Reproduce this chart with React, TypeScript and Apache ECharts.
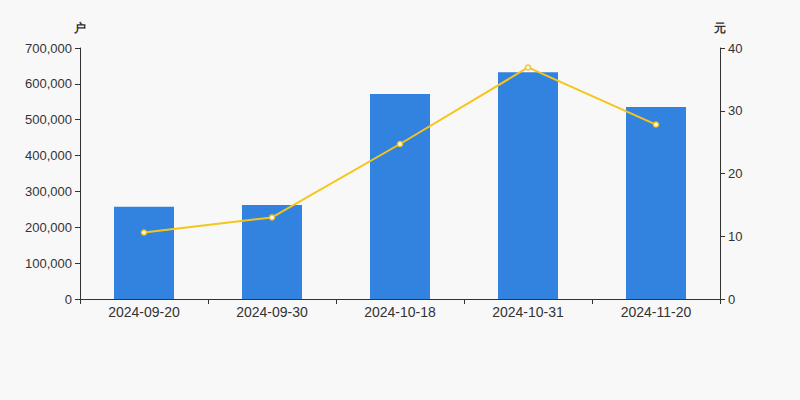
import React, { useEffect, useRef } from "react";
import * as echarts from "echarts";

const categories = ["2024-09-20", "2024-09-30", "2024-10-18", "2024-10-31", "2024-11-20"];
const holders = [257400, 262500, 572000, 632500, 535500];
const prices = [10.6, 13.0, 24.7, 36.9, 27.8];
const leftTicksMax = 700000;
const rightTicksMax = 40;

export default function App() {
  const ref = useRef<HTMLDivElement>(null);
  useEffect(() => {
    const chart = echarts.init(ref.current!, null, { renderer: "svg" });
    const axisLineStyle = { color: "#333" };
    chart.setOption({
      animation: false,
      backgroundColor: "#f8f8f8",
      grid: { left: 80, right: 80, top: 48, bottom: 101 },
      xAxis: {
        type: "category",
        data: categories,
        axisLine: { lineStyle: axisLineStyle },
        axisTick: { show: true, alignWithLabel: false, lineStyle: axisLineStyle },
        axisLabel: { color: "#333", fontSize: 14, margin: 6 },
      },
      yAxis: [
        {
          type: "value",
          name: "户",
          min: 0,
          max: leftTicksMax,
          interval: 100000,
          nameGap: 14,
          nameTextStyle: { color: "#333", fontSize: 12, fontWeight: "bold", align: "center" },
          axisLine: { show: true, lineStyle: axisLineStyle },
          axisTick: { show: true, lineStyle: axisLineStyle },
          splitLine: { show: false },
          axisLabel: {
            color: "#333",
            fontSize: 13,
            formatter: (v: number) => v.toLocaleString("en-US"),
          },
        },
        {
          type: "value",
          name: "元",
          min: 0,
          max: rightTicksMax,
          interval: 10,
          nameGap: 14,
          nameTextStyle: { color: "#333", fontSize: 12, fontWeight: "bold", align: "center" },
          axisLine: { show: true, lineStyle: axisLineStyle },
          axisTick: { show: true, lineStyle: axisLineStyle },
          splitLine: { show: false },
          axisLabel: { color: "#333", fontSize: 13 },
        },
      ],
      series: [
        {
          type: "bar",
          data: holders,
          barWidth: 60,
          itemStyle: { color: "#3282e0" },
          yAxisIndex: 0,
        },
        {
          type: "line",
          data: prices,
          yAxisIndex: 1,
          symbol: "circle",
          symbolSize: 5,
          lineStyle: { color: "#f5c518", width: 2 },
          itemStyle: { color: "#fff", borderColor: "#f5c518", borderWidth: 1.5 },
        },
      ],
    });
    return () => chart.dispose();
  }, []);
  return (
    <div
      ref={ref}
      style={{ position: "absolute", left: 0, top: 0, width: 800, height: 400 }}
    />
  );
}
